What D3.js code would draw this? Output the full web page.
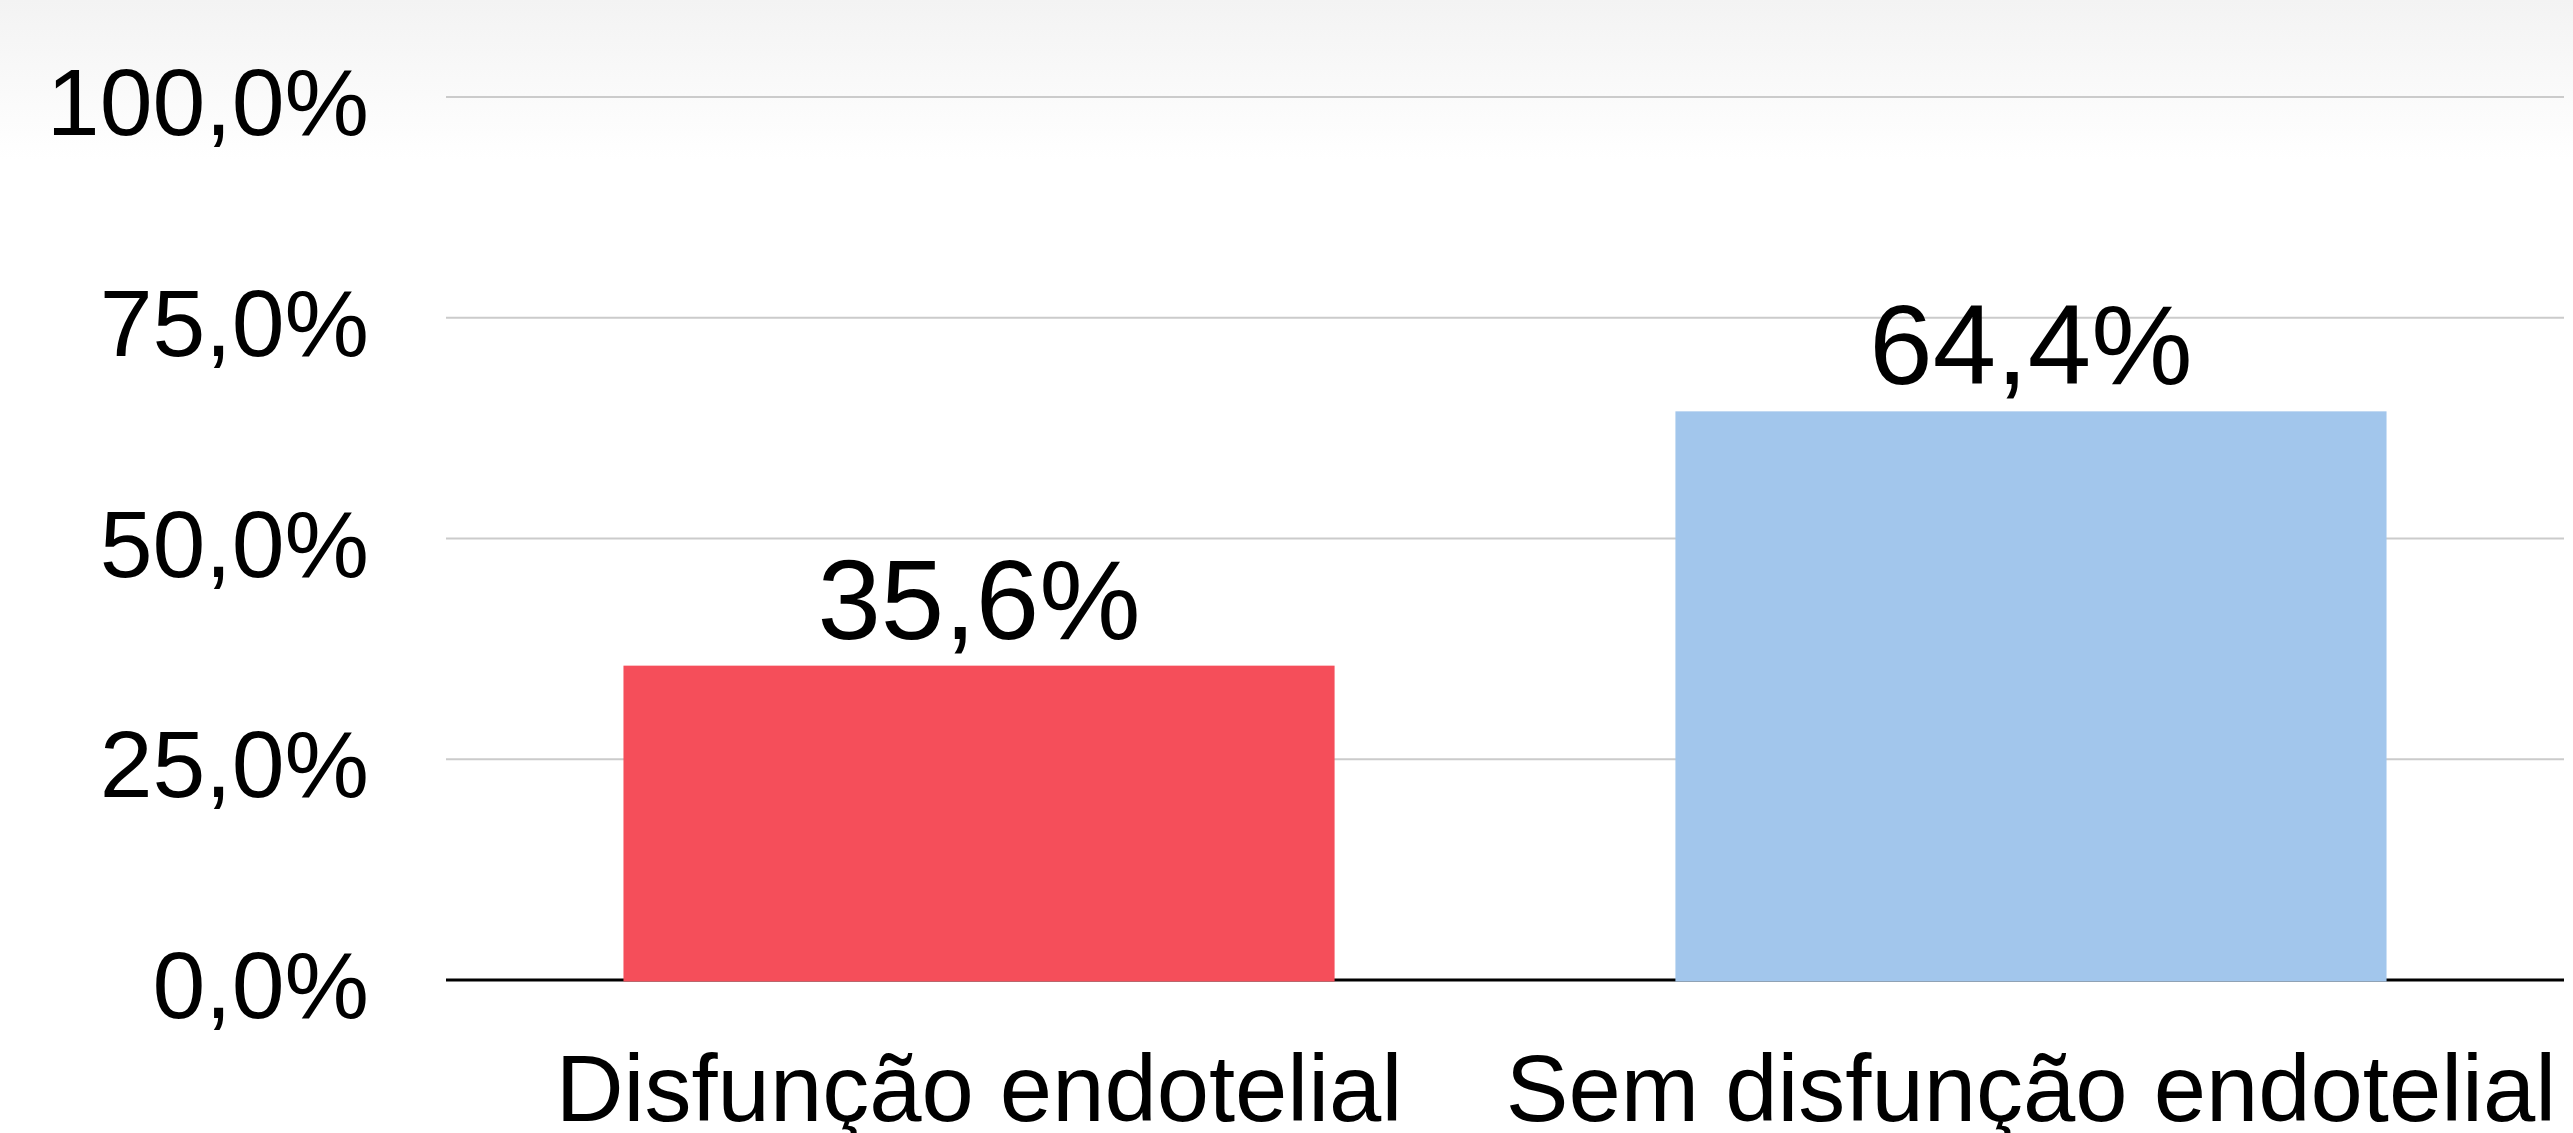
<!DOCTYPE html>
<html><head><meta charset="utf-8">
<script src="https://cdn.jsdelivr.net/npm/d3@7"></script>
<style>html,body{margin:0;padding:0;background:#fff;overflow:hidden}</style>
</head><body>
<svg id="c" width="2573" height="1133"></svg>
<script>
const categories = ["Disfunção endotelial", "Sem disfunção endotelial"];
const values = [35.6, 64.4];
const barColors = ["#F54E5A", "#A2C6EC"];
const yTicks = [0, 25, 50, 75, 100];
const yTickLabels = ["0,0%", "25,0%", "50,0%", "75,0%", "100,0%"];
const valueLabels = ["35,6%", "64,4%"];

const W = 2573, H = 1133;
const svg = d3.select("#c");
const font = "'Liberation Sans', Arial, Helvetica, sans-serif";

const defs = svg.append("defs");
const g = defs.append("linearGradient").attr("id","bg").attr("x1",0).attr("y1",0).attr("x2",0).attr("y2",1);
g.append("stop").attr("offset","0%").attr("stop-color","#f3f3f3");
g.append("stop").attr("offset","100%").attr("stop-color","#ffffff");
svg.append("rect").attr("x",0).attr("y",0).attr("width",W).attr("height",H).attr("fill","#fff");
svg.append("rect").attr("x",0).attr("y",0).attr("width",W).attr("height",160).attr("fill","url(#bg)");

const x0 = 446, x1 = 2564;
const y = d3.scaleLinear().domain([0, 100]).range([980, 97]);
const x = d3.scaleBand().domain(categories).range([x0, x1]).paddingInner(0.324).paddingOuter(0.1687);

// gridlines
svg.append("g").selectAll("line").data(yTicks.filter(d => d > 0)).join("line")
  .attr("x1", x0).attr("x2", x1)
  .attr("y1", d => y(d)).attr("y2", d => y(d))
  .attr("stroke", "#cbcbcb").attr("stroke-width", 2);

// zero line
svg.append("line").attr("x1", x0).attr("x2", x1).attr("y1", y(0)).attr("y2", y(0))
  .attr("stroke", "#000").attr("stroke-width", 3);

// y tick labels
svg.append("g").selectAll("text").data(yTicks).join("text")
  .attr("x", 369).attr("y", d => y(d) + 38)
  .attr("text-anchor", "end")
  .attr("font-family", font).attr("font-size", 95).attr("fill", "#000")
  .text((d, i) => yTickLabels[i]);

// bars
svg.append("g").selectAll("rect").data(values).join("rect")
  .attr("x", (d, i) => x(categories[i]))
  .attr("width", x.bandwidth())
  .attr("y", d => y(d))
  .attr("height", d => y(0) + 1.5 - y(d))
  .attr("fill", (d, i) => barColors[i]);

// value labels
svg.append("g").selectAll("text").data(values).join("text")
  .attr("x", (d, i) => x(categories[i]) + x.bandwidth() / 2)
  .attr("y", d => y(d) - 27)
  .attr("text-anchor", "middle")
  .attr("font-family", font).attr("font-size", 114).attr("fill", "#000")
  .text((d, i) => valueLabels[i]);

// category labels
svg.append("g").selectAll("text").data(categories).join("text")
  .attr("x", d => x(d) + x.bandwidth() / 2)
  .attr("y", 1121)
  .attr("text-anchor", "middle")
  .attr("font-family", font).attr("font-size", 94).attr("fill", "#000")
  .text(d => d);
</script>
</body></html>
